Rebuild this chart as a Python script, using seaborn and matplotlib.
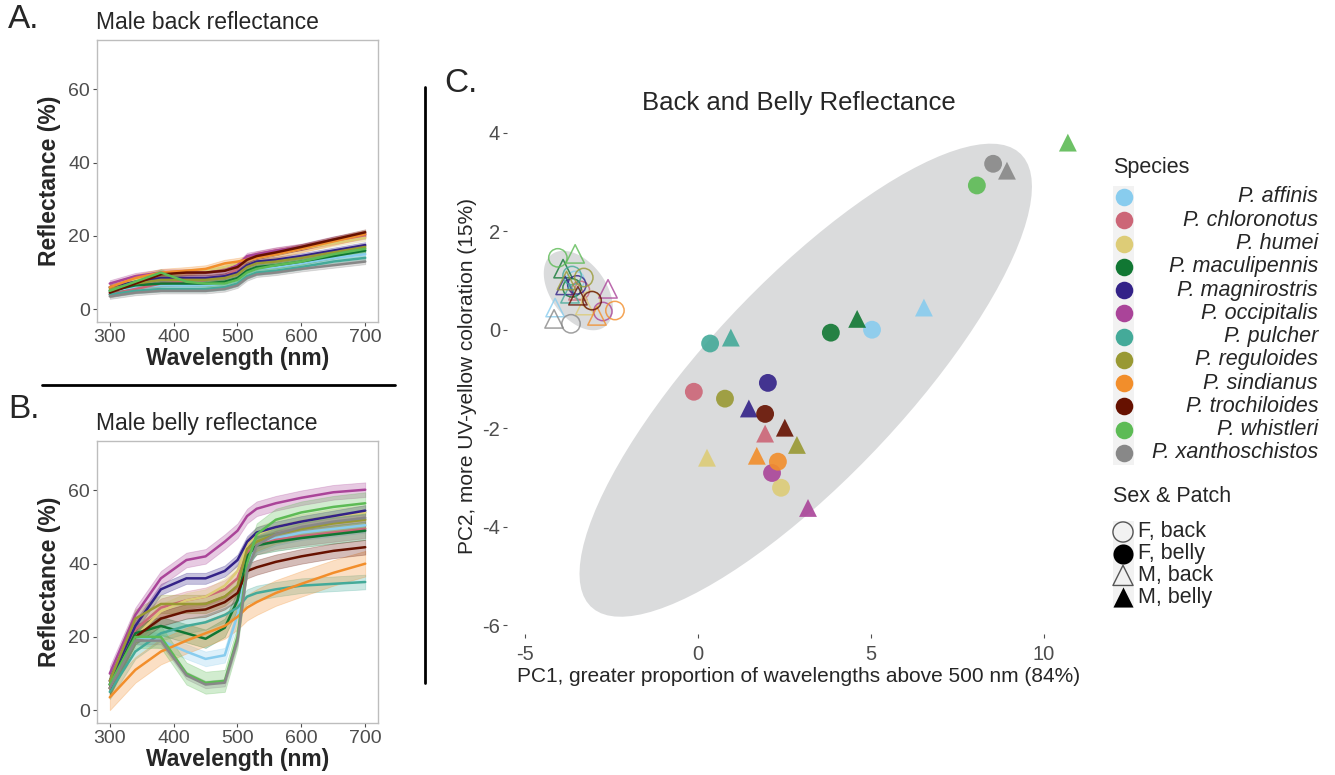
import numpy as np
import pandas as pd
import matplotlib
matplotlib.use("Agg")
import matplotlib.pyplot as plt
import seaborn as sns
from matplotlib.patches import Rectangle

# ---------------- data ----------------
species = ["P. affinis", "P. chloronotus", "P. humei", "P. maculipennis", "P. magnirostris",
           "P. occipitalis", "P. pulcher", "P. reguloides", "P. sindianus", "P. trochiloides",
           "P. whistleri", "P. xanthoschistos"]
species_colors = ["#88CCEE", "#CC6677", "#DDCC77", "#117733", "#332288", "#AA4499",
                  "#44AA99", "#999933", "#F28E2B", "#661100", "#5DBB55", "#888888"]

wavelengths = [300, 340, 380, 420, 450, 480, 500, 515, 530, 560, 600, 650, 700]

# Panel A: male back reflectance (mean per species) and ribbon half-width
male_back_mean = [
    [5.0, 6.0, 6.5, 6.5, 6.5, 7.0, 8.0, 10.0, 11.0, 11.5, 12.5, 14.0, 15.0],
    [4.0, 5.5, 7.0, 7.5, 8.0, 9.0, 11.0, 14.0, 15.0, 16.0, 17.0, 18.5, 20.0],
    [6.0, 8.0, 9.5, 10.0, 10.5, 11.5, 12.5, 13.5, 14.0, 15.0, 16.5, 18.0, 19.5],
    [5.0, 6.5, 7.0, 7.0, 7.0, 7.5, 8.5, 10.5, 11.5, 12.0, 13.0, 14.5, 16.0],
    [6.0, 7.5, 8.5, 8.5, 8.5, 9.0, 10.0, 12.0, 13.0, 13.5, 14.5, 16.0, 17.5],
    [7.0, 9.0, 10.0, 10.0, 10.0, 10.5, 12.0, 14.5, 15.0, 16.0, 17.0, 19.0, 20.5],
    [4.0, 5.0, 5.5, 5.5, 5.5, 6.0, 7.0, 9.0, 10.0, 10.5, 11.5, 13.0, 14.0],
    [5.5, 7.0, 8.0, 8.0, 8.0, 8.5, 9.5, 11.5, 12.5, 13.0, 14.0, 15.5, 17.0],
    [6.0, 8.5, 10.0, 10.5, 11.0, 12.5, 13.0, 13.5, 14.0, 15.0, 16.5, 18.5, 20.5],
    [4.5, 7.0, 9.5, 10.0, 10.0, 10.5, 11.5, 13.5, 14.5, 15.5, 17.0, 19.0, 21.0],
    [5.0, 7.5, 10.0, 7.5, 7.0, 7.0, 8.0, 10.0, 11.0, 12.0, 13.0, 15.0, 16.5],
    [3.5, 4.5, 5.0, 5.0, 5.0, 5.5, 6.5, 8.5, 9.5, 10.0, 11.0, 12.0, 13.0],
]
male_back_sd = [0.8, 0.8, 0.8, 0.7, 0.8, 0.9, 0.7, 0.8, 1.0, 0.8, 0.9, 0.7]

# Panel B: male belly reflectance
male_belly_mean = [
    [7.0, 20.0, 19.0, 16.0, 14.0, 15.0, 26.0, 40.0, 45.0, 47.0, 48.5, 49.5, 50.5],
    [7.0, 22.0, 28.0, 30.0, 31.0, 33.0, 36.0, 43.0, 45.0, 46.5, 47.5, 48.5, 49.5],
    [6.0, 20.0, 27.0, 30.0, 31.0, 34.0, 38.0, 45.0, 48.0, 50.0, 51.5, 53.0, 54.0],
    [7.0, 21.0, 23.0, 21.0, 19.5, 22.5, 30.0, 42.0, 45.0, 46.0, 47.0, 48.0, 49.0],
    [8.0, 23.0, 33.0, 36.0, 36.0, 38.0, 41.0, 46.0, 48.5, 50.0, 51.5, 53.0, 54.5],
    [10.0, 26.0, 36.0, 41.0, 42.0, 46.0, 49.0, 53.0, 55.0, 56.5, 58.0, 59.5, 60.2],
    [5.0, 16.0, 21.0, 23.0, 24.0, 26.0, 28.0, 31.0, 32.0, 33.0, 34.0, 34.5, 35.0],
    [8.0, 25.0, 29.0, 29.0, 29.0, 31.0, 34.0, 44.0, 46.0, 48.0, 49.5, 51.0, 52.0],
    [3.5, 11.0, 16.0, 19.0, 21.0, 23.0, 25.5, 28.0, 29.5, 32.0, 34.5, 37.5, 40.0],
    [6.0, 20.0, 25.0, 27.0, 27.5, 29.5, 32.0, 38.0, 39.0, 40.5, 42.0, 43.5, 44.5],
    [7.0, 20.0, 20.0, 10.0, 7.5, 8.0, 20.0, 40.0, 48.0, 52.0, 54.0, 55.5, 56.5],
    [6.0, 19.0, 19.0, 9.5, 7.0, 7.5, 19.0, 38.0, 45.0, 48.0, 50.0, 51.5, 52.5],
]
male_belly_sd = [2.0, 2.5, 2.0, 2.5, 1.5, 2.0, 2.0, 2.5, 3.5, 2.0, 3.0, 1.0]

# Panel C: PCA scores (species order as above)
pc1_f_back = [-3.55, -3.40, -3.10, -3.64, -3.50, -2.75, -3.64, -3.30, -2.40, -3.06, -4.05, -3.67]
pc2_f_back = [1.00, 0.80, 0.60, 0.85, 0.91, 0.37, 1.10, 1.06, 0.39, 0.59, 1.46, 0.12]
pc1_f_belly = [5.03, -0.12, 2.40, 3.84, 2.02, 2.14, 0.35, 0.78, 2.31, 1.94, 8.06, 8.53]
pc2_f_belly = [0.00, -1.26, -3.21, -0.06, -1.08, -2.91, -0.28, -1.40, -2.68, -1.71, 2.93, 3.37]
pc1_m_back = [-4.13, -3.47, -3.27, -3.90, -3.84, -2.60, -3.70, -3.80, -2.92, -3.47, -3.55, -4.16]
pc2_m_back = [0.45, 0.79, 0.49, 1.24, 0.90, 0.83, 0.73, 1.00, 0.28, 0.69, 1.54, 0.22]
pc1_m_belly = [6.53, 1.94, 0.26, 4.60, 1.47, 3.18, 0.95, 2.86, 1.70, 2.51, 10.69, 8.93]
pc2_m_belly = [0.45, -2.11, -2.60, 0.22, -1.60, -3.62, -0.16, -2.34, -2.56, -1.99, 3.80, 3.23]

sex_patch_labels = ["F, back", "F, belly", "M, back", "M, belly"]

palette = dict(zip(species, species_colors))

# ---------------- style ----------------
sns.set_theme(style="white")
plt.rcParams['font.family'] = ['Liberation Sans', 'DejaVu Sans']
plt.rcParams['axes.unicode_minus'] = False

W, H = 1335, 775
fig = plt.figure(figsize=(W / 100, H / 100), dpi=100)


def px_rect(left, top, right, bottom):
    return [left / W, 1 - bottom / H, (right - left) / W, (bottom - top) / H]


def spectra_panel(ax, means, sds, title):
    rows = []
    for sp, m_row, s in zip(species, means, sds):
        for wl, m in zip(wavelengths, m_row):
            for v in (m - s, m, m + s):
                rows.append((sp, wl, v))
    df = pd.DataFrame(rows, columns=["species", "wl", "refl"])
    sns.lineplot(data=df, x="wl", y="refl", hue="species", hue_order=species,
                 palette=palette, estimator="mean", errorbar=("pi", 100),
                 err_kws={"alpha": 0.28, "linewidth": 0.6}, linewidth=1.8,
                 legend=False, ax=ax)
    ax.set_xlim(280, 720)
    ax.set_ylim(-3.5, 73.5)
    ax.set_xticks([300, 400, 500, 600, 700])
    ax.set_yticks([0, 20, 40, 60])
    ax.set_xlabel("Wavelength (nm)", fontsize=16.5, fontweight="bold", labelpad=1)
    ax.set_ylabel("Reflectance (%)", fontsize=16.5, fontweight="bold", labelpad=5)
    ax.set_title(title, fontsize=16.5, loc="left", pad=8, x=-0.005)
    ax.tick_params(axis="both", labelsize=14, labelcolor="#4D4D4D", colors="#4D4D4D",
                   length=3, width=0.8, bottom=True, left=True, pad=2)
    for s in ax.spines.values():
        s.set_color("#BDBDBD")
        s.set_linewidth(1.0)
    ax.grid(False)


axA = fig.add_axes(px_rect(97, 40, 378, 322))
spectra_panel(axA, male_back_mean, male_back_sd, "Male back reflectance")
axB = fig.add_axes(px_rect(97, 441, 378, 723))
spectra_panel(axB, male_belly_mean, male_belly_sd, "Male belly reflectance")

# ---------------- panel C ----------------
recs = []
for i, sp in enumerate(species):
    recs.append((sp, "F", "back", pc1_f_back[i], pc2_f_back[i]))
    recs.append((sp, "F", "belly", pc1_f_belly[i], pc2_f_belly[i]))
    recs.append((sp, "M", "back", pc1_m_back[i], pc2_m_back[i]))
    recs.append((sp, "M", "belly", pc1_m_belly[i], pc2_m_belly[i]))
dfc = pd.DataFrame(recs, columns=["species", "sex", "patch", "pc1", "pc2"])

axC = fig.add_axes(px_rect(507, 118, 1090, 634))


def cov_trob(pts, nu=5, tol=1e-4, maxit=100):
    n, p = pts.shape
    loc = pts.mean(axis=0)
    w = np.ones(n)
    X = pts - loc
    for _ in range(maxit):
        w0 = w
        X = pts - loc
        S = (X * (w / w.sum())[:, None]).T @ X
        Q = np.einsum("ij,jk,ik->i", X, np.linalg.inv(S), X)
        w = (nu + p) / (nu + Q)
        loc = (w[:, None] * pts).sum(axis=0) / w.sum()
        if np.all(np.abs(w - w0) < tol):
            break
    cov = (X * w[:, None]).T @ X / n
    return loc, cov


QF_95_2_23 = 3.4221  # F quantile (0.95; 2, 23) as used by a 95% t-ellipse
for patch in ["back", "belly"]:
    sub = dfc[dfc.patch == patch]
    pts = sub[["pc1", "pc2"]].to_numpy()
    loc, cov = cov_trob(pts)
    R = np.linalg.cholesky(cov).T
    t = np.linspace(0, 2 * np.pi, 101)
    circ = np.column_stack([np.cos(t), np.sin(t)])
    ell = loc + np.sqrt(2 * QF_95_2_23) * circ @ R
    axC.fill(ell[:, 0], ell[:, 1], color="#DADBDC", lw=0, zorder=0)

belly = dfc[dfc.patch == "belly"]
back = dfc[dfc.patch == "back"]
sns.scatterplot(data=belly, x="pc1", y="pc2", hue="species", hue_order=species,
                palette=palette, style="sex", markers={"F": "o", "M": "^"},
                s=165, alpha=0.9, linewidth=0, legend=False, ax=axC, zorder=3)
sns.scatterplot(data=back, x="pc1", y="pc2", hue="species", hue_order=species,
                palette=palette, style="sex", markers={"F": "o", "M": "^"},
                s=175, linewidth=1.1, legend=False, ax=axC, zorder=3)
coll = axC.collections[-1]
fc = coll.get_facecolors().copy()
fc[:, 3] = 0.8
coll.set_edgecolors(fc)
coll.set_facecolors("none")

axC.set_xlim(-5.52, 11.33)
axC.set_ylim(-6.18, 4.30)
axC.set_xticks([-5, 0, 5, 10])
axC.set_yticks([-6, -4, -2, 0, 2, 4])
for s in axC.spines.values():
    s.set_visible(False)
axC.tick_params(axis="both", labelsize=14.5, labelcolor="#4D4D4D", colors="#4D4D4D",
                length=3, width=0.8, bottom=True, left=True, pad=2)
axC.tick_params(axis="x", pad=5)
axC.set_xlabel("PC1, greater proportion of wavelengths above 500 nm (84%)", fontsize=15, labelpad=2)
axC.set_ylabel("PC2, more UV-yellow coloration (15%)", fontsize=15, labelpad=4)
axC.set_title("Back and Belly Reflectance", fontsize=18.5, pad=6)
axC.grid(False)

# ---------------- overlay: separators, panel letters, legend ----------------
ov = fig.add_axes([0, 0, 1, 1])
ov.set_xlim(0, W)
ov.set_ylim(H, 0)
ov.axis("off")
ov.plot([42, 395], [385, 385], color="black", lw=2)
ov.plot([425, 425], [87, 683], color="black", lw=2)
ov.text(8, 20, "A.", fontsize=24, va="center", ha="left")
ov.text(8, 410, "B.", fontsize=24, va="center", ha="left")
ov.text(444, 83, "C.", fontsize=24, va="center", ha="left")

# species legend
ov.text(1113, 167, "Species", fontsize=15.5, va="center", ha="left")
ov.add_patch(Rectangle((1113, 186), 21, 279, color="#F2F2F2", lw=0, zorder=0))
y0, dy = 197, 23.27
for i, (sp, col) in enumerate(zip(species, species_colors)):
    y = y0 + i * dy
    ov.scatter([1124], [y], s=160, color=col, lw=0, zorder=2)
    ov.text(1318, y, sp, fontsize=15.5, style="italic", ha="right", va="center")

# sex & patch legend
ov.text(1113, 497, "Sex & Patch", fontsize=15.5, va="center", ha="left")
ov.add_patch(Rectangle((1113, 521), 21, 86, color="#F2F2F2", lw=0, zorder=0))
sp_markers = ["o", "o", "^", "^"]
sp_filled = [False, True, False, True]
for i, (lab, mk, filled) in enumerate(zip(sex_patch_labels, sp_markers, sp_filled)):
    y = 532 + i * 21.7
    if filled:
        ov.scatter([1123], [y], s=210, marker=mk, color="black", lw=0, zorder=2)
    else:
        ov.scatter([1123], [y], s=210, marker=mk, facecolor="none", edgecolor="#555555", lw=1.0, zorder=2)
    ov.text(1138, y, lab, fontsize=15.5, ha="left", va="center")

fig.savefig("out.png", dpi=100)
